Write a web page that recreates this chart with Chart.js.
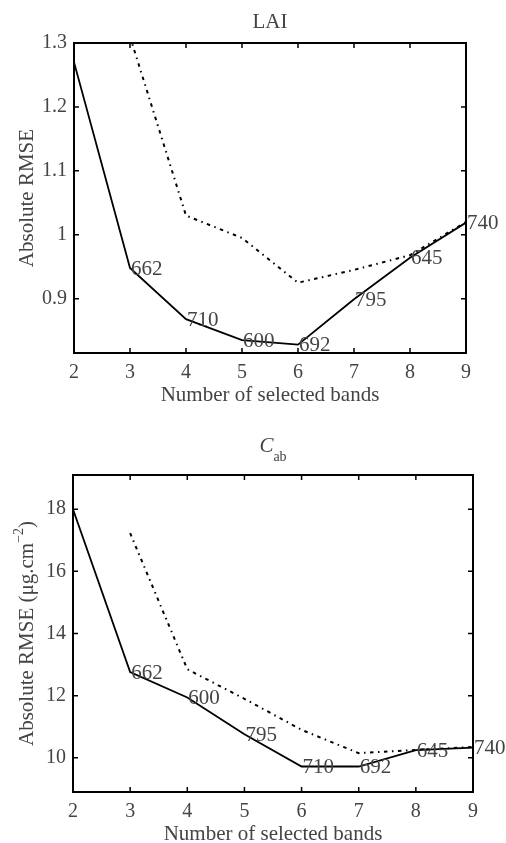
<!DOCTYPE html>
<html>
<head>
<meta charset="utf-8">
<script src="https://cdn.jsdelivr.net/npm/chart.js@4.4.1/dist/chart.umd.min.js"></script>
<style>
  html, body { margin: 0; padding: 0; background: #fff; }
  canvas { display: block; }
</style>
</head>
<body>
<canvas id="laiChart" width="506" height="420"></canvas>
<canvas id="cabChart" width="506" height="423"></canvas>
<script>
// number of selected bands (x axis)
const bands = [2, 3, 4, 5, 6, 7, 8, 9];

// LAI panel
const laiSolid = [1.27, 0.948, 0.868, 0.835, 0.828, 0.899, 0.964, 1.019];
const laiDotted = [null, 1.31, 1.03, 0.995, 0.925, 0.945, 0.968, 1.02];
const laiBandNames = ['', '662', '710', '600', '692', '795', '645', '740'];
const laiTicks = [0.9, 1, 1.1, 1.2, 1.3];

// Cab panel
const cabSolid = [18.0, 12.76, 11.94, 10.76, 9.72, 9.72, 10.25, 10.33];
const cabDotted = [null, 17.23, 12.85, 11.9, 10.9, 10.15, 10.25, 10.35];
const cabBandNames = ['', '662', '600', '795', '710', '692', '645', '740'];
const cabTicks = [10, 12, 14, 16, 18];

const FONT = "'Liberation Serif', 'Times New Roman', serif";
const TEXT = '#444';

const toPoints = ys => bands.map((b, i) => ({ x: b, y: ys[i] }));

// box with inward tick marks on all four sides
const framePlugin = {
    id: 'frame',
    afterDatasetsDraw(chart) {
        const { ctx, chartArea: a, scales: { x, y } } = chart;
        ctx.save();
        ctx.strokeStyle = '#000';
        ctx.lineWidth = 1.5;
        ctx.beginPath();
        x.ticks.forEach(t => {
            const px = x.getPixelForValue(t.value);
            ctx.moveTo(px, a.bottom); ctx.lineTo(px, a.bottom - 5);
            ctx.moveTo(px, a.top); ctx.lineTo(px, a.top + 5);
        });
        y.ticks.forEach(t => {
            const py = y.getPixelForValue(t.value);
            ctx.moveTo(a.left, py); ctx.lineTo(a.left + 5, py);
            ctx.moveTo(a.right, py); ctx.lineTo(a.right - 5, py);
        });
        ctx.stroke();
        ctx.lineWidth = 2;
        ctx.strokeRect(a.left, a.top, a.right - a.left, a.bottom - a.top);
        ctx.restore();
    }
};

// band wavelength next to each point of the solid line
const bandLabelPlugin = {
    id: 'bandLabels',
    afterDatasetsDraw(chart, args, opts) {
        const { ctx } = chart;
        const pts = chart.getDatasetMeta(0).data;
        ctx.save();
        ctx.font = '21px ' + FONT;
        ctx.fillStyle = TEXT;
        ctx.textAlign = 'left';
        ctx.textBaseline = 'middle';
        opts.names.forEach((n, i) => {
            if (n) ctx.fillText(n, pts[i].x + 1, pts[i].y + 1);
        });
        ctx.restore();
    }
};

// panel title, x title and y title (with sub/superscripts)
const titlesPlugin = {
    id: 'titles',
    afterDraw(chart, args, opts) {
        const { ctx, chartArea: a } = chart;
        const cx = (a.left + a.right) / 2;
        ctx.save();
        ctx.fillStyle = TEXT;
        ctx.textBaseline = 'alphabetic';

        // title
        if (opts.titleSub) {
            ctx.font = 'italic 21px ' + FONT;
            const w1 = ctx.measureText(opts.title).width;
            ctx.font = '14px ' + FONT;
            const w2 = ctx.measureText(opts.titleSub).width;
            const x0 = cx - (w1 + w2) / 2;
            ctx.textAlign = 'left';
            ctx.font = 'italic 21px ' + FONT;
            ctx.fillText(opts.title, x0, a.top - opts.titleGap);
            ctx.font = '14px ' + FONT;
            ctx.fillText(opts.titleSub, x0 + w1, a.top - opts.titleGap + 9);
        } else {
            ctx.font = '21px ' + FONT;
            ctx.textAlign = 'center';
            ctx.fillText(opts.title, cx, a.top - opts.titleGap);
        }

        // x title
        ctx.font = '21px ' + FONT;
        ctx.textAlign = 'center';
        ctx.fillText('Number of selected bands', cx, a.bottom + 48);

        // y title, rotated
        ctx.translate(27, (a.top + a.bottom) / 2);
        ctx.rotate(-Math.PI / 2);
        ctx.textBaseline = 'middle';
        ctx.textAlign = 'left';
        const parts = opts.yTitle;
        let total = 0;
        parts.forEach(p => {
            ctx.font = (p.sup ? '14px ' : '21px ') + FONT;
            total += ctx.measureText(p.text).width;
        });
        let xx = -total / 2;
        parts.forEach(p => {
            ctx.font = (p.sup ? '14px ' : '21px ') + FONT;
            ctx.fillText(p.text, xx, p.sup ? -8 : 0);
            xx += ctx.measureText(p.text).width;
        });
        ctx.restore();
    }
};

function makeChart(id, solid, dotted, names, yTicks, yMin, yMax, pad, yWidth, xHeight, titleOpts) {
    return new Chart(document.getElementById(id).getContext('2d'), {
        type: 'line',
        data: {
            datasets: [{
                data: toPoints(solid),
                borderColor: '#000',
                borderWidth: 1.8,
                pointRadius: 0,
                tension: 0
            }, {
                data: toPoints(dotted),
                borderColor: '#000',
                borderWidth: 2,
                borderDash: [3.5, 4.5, 1.5, 4.5],
                pointRadius: 0,
                tension: 0
            }]
        },
        options: {
            responsive: false,
            animation: false,
            layout: { padding: pad },
            plugins: {
                legend: { display: false },
                tooltip: { enabled: false },
                bandLabels: { names: names },
                titles: titleOpts
            },
            scales: {
                x: {
                    type: 'linear',
                    min: 2,
                    max: 9,
                    grid: { display: false, drawTicks: false },
                    border: { display: false },
                    ticks: { stepSize: 1, padding: 8, color: TEXT, font: { family: FONT, size: 20 } },
                    afterFit: s => { s.height = xHeight; }
                },
                y: {
                    min: yMin,
                    max: yMax,
                    grid: { display: false, drawTicks: false },
                    border: { display: false },
                    afterBuildTicks: s => { s.ticks = yTicks.map(v => ({ value: v })); },
                    ticks: { padding: 7, color: TEXT, font: { family: FONT, size: 20 }, callback: v => String(v) },
                    afterFit: s => { s.width = yWidth; }
                }
            }
        },
        plugins: [framePlugin, bandLabelPlugin, titlesPlugin]
    });
}

makeChart('laiChart', laiSolid, laiDotted, laiBandNames, laiTicks, 0.815, 1.3,
    { top: 43, right: 40, left: 0, bottom: 0 }, 74, 67,
    { title: 'LAI', titleGap: 15, yTitle: [{ text: 'Absolute RMSE' }] });

makeChart('cabChart', cabSolid, cabDotted, cabBandNames, cabTicks, 8.9, 19.1,
    { top: 55, right: 33, left: 0, bottom: 0 }, 73, 51,
    { title: 'C', titleSub: 'ab', titleGap: 23,
      yTitle: [{ text: 'Absolute RMSE (\u03bcg.cm' }, { text: '\u22122', sup: true }, { text: ')' }] });
</script>
</body>
</html>
